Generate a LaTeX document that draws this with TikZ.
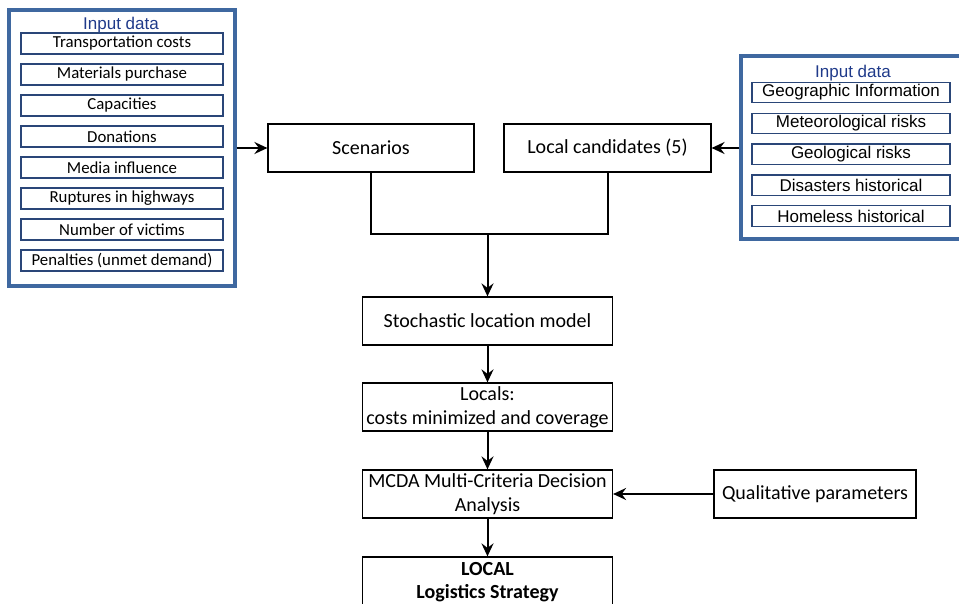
\documentclass[tikz,border=0pt]{standalone}
\usepackage{fontspec}
\setmainfont{Carlito}
\newfontfamily\arialf{Liberation Sans}
\usetikzlibrary{arrows.meta}
\definecolor{outerblue}{HTML}{3F68A0}
\definecolor{innerblue}{HTML}{2A4678}
\definecolor{titleblue}{HTML}{1F3A8A}
\tikzset{
  outerbox/.style={draw=outerblue, line width=3.4pt, inner sep=0pt},
  leftitem/.style={draw=innerblue, line width=1.2pt, minimum width=202pt, minimum height=21pt, inner sep=0pt, font=\fontsize{16.8}{19}\selectfont},
  rightitem/.style={draw=innerblue, line width=1.2pt, minimum width=198pt, minimum height=20.5pt, inner sep=0pt, font=\arialf\fontsize{17}{19}\selectfont},
  titletext/.style={text=titleblue, inner sep=0pt, font=\arialf\fontsize{17}{19}\selectfont},
  mainbox/.style={draw=black, line width=1.2pt, minimum height=48pt, inner sep=0pt, align=center, font=\fontsize{20}{24}\selectfont},
  conn/.style={draw=black, line width=2pt},
  arr/.style={conn, -{Stealth[length=13pt,width=12pt,inset=4.5pt]}}
}
\begin{document}
\begin{tikzpicture}[x=1pt,y=-1pt]
\useasboundingbox (0,0) rectangle (959,604);
\clip (0,0) rectangle (959,604);
% left input group
\node[outerbox, minimum width=226pt, minimum height=276pt] (lout) at (122,148) {};
\node[titletext] (ltitle) at (121,25) {Input data};
\node[leftitem] (l1) at (122,43.5) {Transportation costs};
\node[leftitem] (l2) at (122,74.5) {Materials purchase};
\node[leftitem] (l3) at (122,105.5) {Capacities};
\node[leftitem] (l4) at (122,136.5) {Donations};
\node[leftitem] (l5) at (122,167.5) {Media influence};
\node[leftitem] (l6) at (122,198.5) {Ruptures in highways};
\node[leftitem] (l7) at (122,229.5) {Number of victims};
\node[leftitem] (l8) at (122,260.5) {Penalties (unmet demand)};
% right input group
\node[outerbox, minimum width=229pt, minimum height=183pt] (rout) at (855.5,147.5) {};
\node[titletext] (rtitle) at (853,73) {Input data};
\node[rightitem] (r1) at (851,92.5) {Geographic Information};
\node[rightitem] (r2) at (851,123.4) {Meteorological risks};
\node[rightitem] (r3) at (851,154.3) {Geological risks};
\node[rightitem] (r4) at (851,185.2) {Disasters historical};
\node[rightitem] (r5) at (851,216.1) {Homeless historical};
% main flow
\node[mainbox, minimum width=206pt] (scen) at (371,148) {Scenarios};
\node[mainbox, minimum width=207pt] (loc) at (607.5,148) {Local candidates (5)};
\node[mainbox, minimum width=250pt] (stoch) at (487.5,321) {Stochastic location model};
\node[mainbox, minimum width=250pt] (locals) at (487.5,407) {Locals:\\costs minimized and coverage};
\node[mainbox, minimum width=250pt] (mcda) at (487.5,494) {MCDA Multi-Criteria Decision\\Analysis};
\node[mainbox, minimum width=202pt] (qual) at (815,494) {Qualitative parameters};
\node[mainbox, minimum width=250pt, minimum height=72pt] (strat) at (487.5,593) {};
\node[inner sep=0pt, align=center, font=\bfseries\fontsize{20}{23}\selectfont] (strattext) at (487.5,582) {LOCAL\\Logistics Strategy};
\coordinate (j) at (487.5,234);
% connectors
\draw[arr] (lout.east |- scen.west) -- (scen.west);
\draw[arr] (rout.west |- loc.east) -- (loc.east);
\draw[conn] (scen.south) |- (j) -| (loc.south);
\draw[arr] (j) -- (stoch.north);
\draw[arr] (stoch.south) -- (locals.north);
\draw[arr] (locals.south) -- (mcda.north);
\draw[arr] (mcda.south) -- (strat.north);
\draw[arr] (qual.west) -- (mcda.east);
\end{tikzpicture}
\end{document}
